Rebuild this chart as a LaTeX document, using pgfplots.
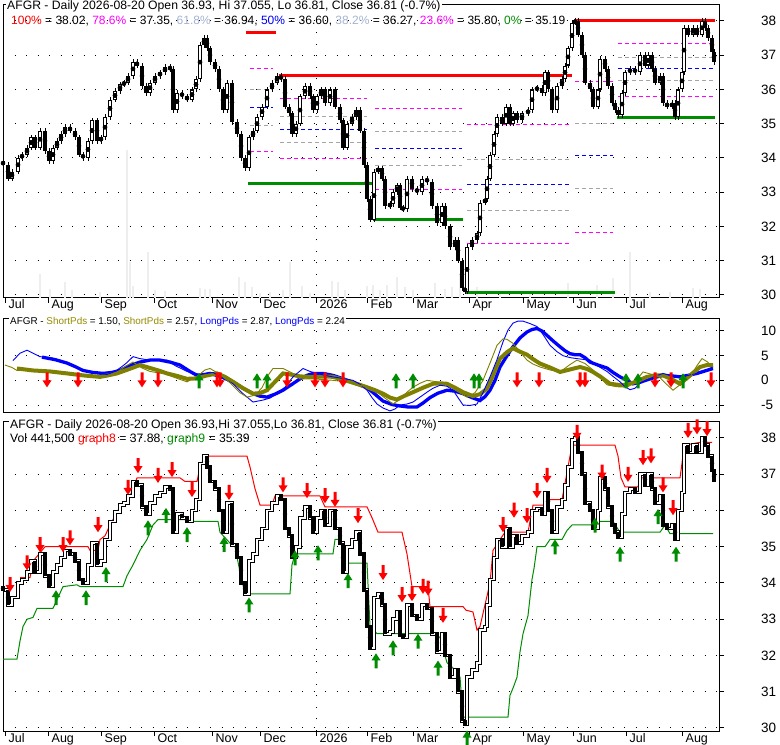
\documentclass[border=0pt]{standalone}
\usepackage{pgfplots}
\pgfplotsset{compat=1.18}
\usepackage{pgfplotstable}
\usepackage{fontspec}
\setmainfont{Liberation Sans}
\definecolor{fgreen}{RGB}{0,140,0}
\definecolor{olv}{RGB}{128,128,0}
\definecolor{olvt}{RGB}{150,140,0}
\definecolor{fgray}{RGB}{165,165,165}
\definecolor{lsb}{RGB}{165,180,210}
\definecolor{volg}{RGB}{238,238,238}
\definecolor{mag}{RGB}{255,0,255}

\pgfdeclareplotmark{darr}{%
  \pgfpathmoveto{\pgfpoint{0bp}{0bp}}%
  \pgfpathlineto{\pgfpoint{-4.5bp}{7bp}}%
  \pgfpathlineto{\pgfpoint{-1.5bp}{7bp}}%
  \pgfpathlineto{\pgfpoint{-1.5bp}{15bp}}%
  \pgfpathlineto{\pgfpoint{1.5bp}{15bp}}%
  \pgfpathlineto{\pgfpoint{1.5bp}{7bp}}%
  \pgfpathlineto{\pgfpoint{4.5bp}{7bp}}%
  \pgfpathclose\pgfusepathqfill}
\pgfdeclareplotmark{uarr}{%
  \pgfpathmoveto{\pgfpoint{0bp}{0bp}}%
  \pgfpathlineto{\pgfpoint{-4.5bp}{-7bp}}%
  \pgfpathlineto{\pgfpoint{-1.5bp}{-7bp}}%
  \pgfpathlineto{\pgfpoint{-1.5bp}{-15bp}}%
  \pgfpathlineto{\pgfpoint{1.5bp}{-15bp}}%
  \pgfpathlineto{\pgfpoint{1.5bp}{-7bp}}%
  \pgfpathlineto{\pgfpoint{4.5bp}{-7bp}}%
  \pgfpathclose\pgfusepathqfill}

\pgfplotstableread{
x o c
3 33.9 33.8
8 33.8 33.4
12 33.4 33.6
18 33.6 34.0
22 34.0 34.1
27 34.1 34.3
31 34.3 34.6
35 34.6 34.3
40 34.3 34.8
45 34.8 34.2
49 34.2 33.9
53 33.9 34.3
57 34.3 34.5
61 34.5 34.7
65 34.7 34.9
70 34.9 34.8
75 34.8 34.6
79 34.6 34.1
83 34.1 34.0
88 34.0 34.5
92 34.5 35.1
97 35.1 34.5
101 34.5 34.6
105 34.6 35.2
110 35.2 35.7
115 35.7 35.95
120 35.95 36.15
124 36.15 36.2
128 36.2 36.4
133 36.4 36.8
137 36.8 36.7
142 36.7 36.1
146 36.1 35.9
150 35.9 36.2
155 36.2 36.4
160 36.4 36.5
165 36.5 36.65
170 36.65 36.6
173 36.6 35.4
177 35.4 35.9
182 35.9 35.8
187 35.8 35.7
192 35.7 36.0
196 36.0 36.3
200 36.3 37.3
204 37.3 37.5
207 37.5 37.2
210 37.2 36.8
215 36.8 36.6
219 36.6 36.0
223 36.0 35.4
227 35.4 36.2
232 36.2 35.05
237 35.05 34.7
241 34.7 34.0
245 34.0 33.7
249 33.7 34.6
253 34.6 34.8
257 34.8 35.2
262 35.2 35.5
267 35.5 36.0
272 36.0 36.2
277 36.2 36.4
281 36.4 36.3
285 36.3 35.5
289 35.5 35.3
292 35.3 34.7
296 34.7 35.0
300 35.0 35.8
305 35.8 36.1
310 36.1 35.8
313 35.8 35.4
317 35.4 35.8
321 35.8 36.0
325 36.0 35.6
330 35.6 36.0
335 36.0 35.5
340 35.5 35.1
343 35.1 34.3
347 34.3 35.0
352 35.0 35.2
356 35.2 35.4
360 35.4 34.8
364 34.8 33.8
367 33.8 32.8
370 32.8 32.2
374 32.2 33.6
378 33.6 33.7
382 33.7 33.4
385 33.4 32.6
390 32.6 32.65
393 32.65 33.0
397 33.0 33.2
400 33.2 32.55
403 32.55 32.5
407 32.5 33.4
412 33.4 33.1
417 33.1 33.0
422 33.0 33.4
427 33.4 33.3
432 33.3 32.6
437 32.6 32.1
442 32.1 32.6
445 32.6 32.0
450 32.0 31.4
455 31.4 31.6
458 31.6 31.0
462 31.0 30.2
465 30.2 30.1
467 30.1 31.4
472 31.4 31.6
477 31.6 31.8
480 31.8 32.7
485 32.7 32.8
487 32.8 33.4
490 33.4 34.1
494 34.1 34.7
497 34.7 35.2
502 35.2 35.0
506 35.0 35.5
510 35.5 35.0
513 35.0 35.3
517 35.3 35.1
522 35.1 35.3
528 35.3 35.4
532 35.4 36.0
537 36.0 36.05
542 36.05 35.9
545 35.9 36.5
548 36.5 36.0
552 36.0 35.4
557 35.4 36.1
562 36.1 36.3
565 36.3 36.7
568 36.7 37.2
572 37.2 37.95
575 37.95 38.0
578 38.0 37.6
582 37.6 37.0
585 37.0 36.2
590 36.2 36.0
593 36.0 35.5
598 35.5 36.0
600 36.0 36.9
605 36.9 36.6
608 36.6 36.1
612 36.1 35.6
615 35.6 35.4
618 35.4 35.25
622 35.25 35.9
625 35.9 36.5
630 36.5 36.6
635 36.6 36.5
640 36.5 37.0
645 37.0 36.7
648 36.7 37.0
652 37.0 36.6
655 36.6 36.2
660 36.2 36.4
663 36.4 35.6
667 35.6 35.5
672 35.5 35.6
675 35.6 35.2
678 35.2 36.0
682 36.0 36.5
684 36.5 37.8
688 37.8 37.6
693 37.6 37.8
697 37.8 37.6
702 37.6 38.0
705 38.0 37.8
708 37.8 37.5
712 37.5 37.1
714 37.1 36.8
}\cdata

\newcommand{\fib}[4]{\addplot[#1, line width=1bp, dash pattern=on 4bp off 3bp] coordinates {(#2,#4) (#3,#4)};}
\newcommand{\fibs}[4]{\addplot[#1, line width=3bp] coordinates {(#2,#4) (#3,#4)};}

\pgfplotsset{
  common/.style={
    scale only axis, width=716bp, xmin=3, xmax=719,
    axis line style={line width=1bp, black},
    ymajorgrids,
    major grid style={line width=1bp, black, dash pattern=on 1bp off 10.5bp},
    tick align=outside, major tick length=5bp,
    xtick pos=left, ytick pos=right, yticklabel pos=right,
    tick style={black, line width=1bp},
    yticklabel style={font=\fontsize{13.5bp}{16bp}\selectfont, anchor=west, inner sep=0pt, xshift=37bp},
    xticklabel style={font=\fontsize{12.5bp}{15bp}\selectfont, anchor=base west, inner sep=0pt, xshift=3.5bp, yshift=-6bp},
    extra x ticks={316}, extra x tick labels={},
    extra x tick style={xmajorgrids=true, major tick length=0pt},
  },
  months/.style={
    xtick={5,48,101,154,212,260,316,367,413,469,523,573,626,682},
    xticklabels={Jul,Aug,Sep,Oct,Nov,Dec,2026,Feb,Mar,Apr,May,Jun,Jul,Aug},
  },
  wick/.style={only marks, mark=none, error bars/.cd, y dir=both, y explicit, error mark=none,
    error bar style={line width=1bp, draw=black}},
}

\begin{document}
\begin{tikzpicture}
\fill[white] (0,0) rectangle (780bp,745bp);
\path[use as bounding box] (0,0) rectangle (780bp,745bp);

% ---------------- top panel
\begin{axis}[common, months, at={(3bp,447bp)}, anchor=south west, height=293bp,
  ymin=29.912, ymax=38.467, ytick={30,31,32,33,34,35,36,37,38},
  yticklabels={30,31,32,33,34,35,36,37,38}]
\addplot[ycomb, line width=2bp, volg, mark=none] coordinates {
(40,30.61) (50,30.17) (65,30.38) (72,30.15) (100,30.09) (127,34.23) (130,30.96) (133,30.26)
(148,31.26) (155,30.15) (165,30.12) (200,30.2) (205,30.17) (210,30.17) (239,30.53) (245,30.38)
(252,30.23) (260,30.06) (270,30.09) (283,30.15) (290,30.96) (302,30.26) (310,30.06) (332,30.41)
(338,30.38) (345,30.15) (367,30.26) (373,30.29) (380,30.15) (387,30.29) (397,30.53) (405,30.23)
(413,30.15) (435,30.35) (445,30.17) (452,30.23) (460,30.58) (477,30.23) (500,30.09) (530,30.09)
(568,30.35) (597,30.29) (613,30.5) (630,31.26) (650,30.09) (670,30.09) (693,30.2) (700,30.17)};
% fib set 1
\fib{mag}{250}{273}{36.62}
\fib{fgray}{250}{273}{35.99}
\fib{blue}{250}{273}{35.46}
\fib{fgray}{250}{273}{34.94}
\fib{mag}{250}{273}{34.18}
% set 2
\fib{mag}{280}{367}{35.73}
\fib{fgray}{280}{367}{35.2}
\fib{blue}{280}{367}{34.83}
\fib{fgray}{280}{367}{34.45}
\fib{mag}{280}{367}{33.99}
% set 3
\fib{mag}{375}{462}{35.45}
\fib{fgray}{375}{462}{34.77}
\fib{blue}{375}{462}{34.28}
\fib{fgray}{375}{462}{33.77}
\fib{mag}{375}{462}{33.08}
% set 4
\fib{mag}{467}{570}{34.98}
\fib{fgray}{467}{570}{33.96}
\fib{blue}{467}{570}{33.22}
\fib{fgray}{467}{570}{32.47}
\fib{mag}{467}{570}{31.5}
% set 5
\fib{mag}{575}{613}{36.23}
\fib{fgray}{575}{613}{35.0}
\fib{blue}{575}{613}{34.06}
\fib{fgray}{575}{613}{33.1}
\fib{mag}{575}{613}{31.83}
% set 6
\fib{mag}{618}{715}{37.35}
\fib{fgray}{618}{715}{36.94}
\fib{blue}{618}{715}{36.60}
\fib{fgray}{618}{715}{36.27}
\fib{mag}{618}{715}{35.80}
% solid levels
\fibs{red}{246}{276}{37.65}
\fibs{fgreen}{248}{372}{33.25}
\fibs{red}{279}{572}{36.40}
\fibs{fgreen}{373}{463}{32.2}
\fibs{fgreen}{466}{615}{30.07}
\fibs{red}{574}{715}{38.02}
\fibs{fgreen}{617}{715}{35.19}
% candles
\addplot[wick] table[x=x, y expr={(\thisrow{o}+\thisrow{c})/2}, y error expr={abs(\thisrow{o}-\thisrow{c})/2+0.08}] {\cdata};
\addplot[only marks, mark=none, restrict expr to domain={\thisrow{c}-\thisrow{o}}{-100:0},
  error bars/.cd, y dir=both, y explicit, error mark=none, error bar style={line width=3.6bp, draw=black}]
  table[x=x, y expr={(\thisrow{o}+\thisrow{c})/2}, y error expr={abs(\thisrow{o}-\thisrow{c})/2}] {\cdata};
\addplot[only marks, mark=none, restrict expr to domain={\thisrow{c}-\thisrow{o}}{0:100},
  error bars/.cd, y dir=both, y explicit, error mark=none, error bar style={line width=3.6bp, draw=black}]
  table[x=x, y expr={(\thisrow{o}+\thisrow{c})/2}, y error expr={abs(\thisrow{o}-\thisrow{c})/2}] {\cdata};
\addplot[only marks, mark=none, restrict expr to domain={\thisrow{c}-\thisrow{o}}{0:100},
  error bars/.cd, y dir=both, y explicit, error mark=none, error bar style={line width=1.6bp, draw=white}]
  table[x=x, y expr={(\thisrow{o}+\thisrow{c})/2}, y error expr={max(abs(\thisrow{o}-\thisrow{c})/2-0.03,0)}] {\cdata};
\end{axis}

% ---------------- middle panel
\begin{axis}[common, at={(3bp,332bp)}, anchor=south west, height=94bp,
  ymin=-6.62, ymax=12.43, xtick=\empty, ytick={-5,0,5,10}, yticklabels={-5,0,5,10}]
\addplot[blue, line width=3.3bp, mark=none] coordinates {
(42,4.7) (55,4.2) (67,3.5) (75,2.8) (83,2.0) (93,1.6) (103,1.4) (112,1.6) (120,2.0) (130,3.0) (140,3.7)
(150,4.1) (160,4.1) (170,3.7) (180,3.1) (190,1.8) (197,1.0) (205,1.2) (210,1.4) (220,0.8) (233,-0.3)
(243,-1.6) (253,-2.7) (260,-3.2) (267,-3.4) (275,-2.8) (283,-2.0) (292,-0.8) (300,0.3) (307,1.0)
(313,1.4) (323,1.4) (333,1.0) (342,0.4) (350,-0.2) (358,-0.8) (367,-1.5) (375,-2.8) (383,-4.2)
(392,-4.9) (400,-5.2) (408,-5.4) (417,-5.4) (423,-4.6) (430,-3.5) (438,-2.6) (447,-2.0) (455,-2.2)
(463,-2.7) (472,-3.5) (480,-4.1) (485,-3.3) (490,-2.0) (495,0.0) (500,2.7) (507,5.0) (513,6.8)
(520,8.6) (527,9.8) (532,10.3) (537,10.5) (542,10.0) (547,9.1) (553,8.0) (560,6.8) (565,6.0)
(570,5.4) (575,5.2) (580,5.2) (585,4.6) (590,3.7) (598,3.1) (607,2.5) (613,1.6) (620,0.7) (627,0.0)
(633,-0.7) (640,-0.4) (647,0.1) (655,0.6) (663,1.0) (672,0.9) (680,0.7) (688,1.0) (697,1.4) (705,1.9) (713,2.4)};
\addplot[olv, line width=4bp, mark=none] coordinates {
(17,2.4) (25,2.2) (33,2.0) (50,1.8) (67,1.4) (83,1.0) (100,0.7) (108,1.0) (117,1.4) (128,2.2) (140,3.1)
(150,2.5) (160,1.9) (167,1.4) (177,0.9) (187,0.3) (197,0.4) (205,0.9) (217,1.4) (225,0.7) (233,-0.3)
(243,-1.6) (253,-2.7) (260,-2.6) (267,-2.0) (275,-0.3) (283,1.4) (290,1.2) (300,0.8) (310,0.7)
(317,0.7) (325,0.8) (333,0.7) (342,0.2) (350,-0.3) (358,-0.8) (367,-1.4) (375,-2.0) (383,-2.7)
(390,-3.5) (397,-3.9) (405,-3.1) (413,-2.4) (423,-1.5) (433,-0.7) (440,-0.6) (447,-0.7) (455,-1.5)
(463,-2.4) (473,-3.2) (480,-2.8) (487,-1.7) (493,1.0) (500,4.4) (507,5.7) (513,6.5) (520,5.8)
(527,5.2) (533,4.3) (540,3.4) (550,2.6) (560,1.7) (570,2.2) (580,2.7) (587,2.3) (593,1.7) (600,0.8)
(610,-0.7) (618,-0.9) (627,-0.9) (637,-0.2) (647,0.7) (655,1.0) (663,1.0) (672,0.2) (680,-0.7)
(690,1.0) (700,2.7) (707,3.1) (713,3.1)};
\addplot[blue, line width=0.9bp, mark=none] coordinates {
(13,4.0) (20,5.5) (27,6.1) (33,5.5) (40,4.8) (50,4.6) (60,4.1) (70,3.3) (83,2.0) (95,1.4) (107,1.2)
(115,1.8) (122,2.8) (127,3.6) (133,4.8) (140,4.4) (150,4.1) (160,4.1) (167,4.1) (175,3.0) (187,1.8)
(200,1.2) (207,1.4) (213,1.6) (220,0.8) (233,-0.7) (243,-2.7) (253,-4.4) (263,-4.0) (270,-3.6)
(277,-2.7) (285,-1.4) (293,0.7) (303,2.4) (310,1.8) (317,1.4) (325,1.0) (333,0.7) (345,0.3) (353,0.0)
(360,-0.8) (367,-2.0) (372,-3.5) (377,-4.8) (383,-5.6) (390,-6.2) (395,-5.8) (400,-5.0) (407,-4.8)
(413,-4.4) (420,-3.4) (427,-2.4) (433,-1.6) (440,-1.0) (447,-1.2) (453,-2.0) (458,-3.5) (463,-5.0)
(470,-5.1) (477,-4.8) (483,-2.5) (490,0.7) (497,4.2) (503,7.8) (508,10.2) (513,11.6) (518,12.0)
(523,12.0) (530,11.5) (537,10.9) (543,9.3) (550,7.1) (557,5.8) (563,5.0) (570,4.6) (577,4.4)
(585,4.2) (590,4.1) (597,3.0) (607,1.8) (613,0.8) (620,-0.3) (625,-1.3) (630,-1.9) (635,-1.6)
(640,-0.6) (647,0.1) (655,0.8) (663,1.4) (670,1.0) (680,0.5) (688,1.0) (697,1.4) (705,2.0) (713,2.7)};
\addplot[olv, line width=0.9bp, mark=none] coordinates {
(5,3.1) (12,2.6) (17,2.0) (33,2.0) (50,1.8) (67,1.2) (83,0.9) (100,0.6) (115,1.3) (125,2.8) (133,3.7)
(142,2.5) (150,1.8) (165,1.3) (177,0.4) (187,-0.3) (197,0.8) (205,2.1) (210,2.4) (220,1.2) (230,-0.5)
(240,-2.5) (247,-3.4) (255,-3.0) (262,-1.5) (268,1.0) (273,2.4) (283,2.4) (292,1.5) (300,0.3)
(313,0.3) (333,0.0) (350,-0.4) (367,-1.4) (375,-2.0) (383,-3.3) (393,-4.8) (400,-3.8) (407,-2.4)
(413,-1.4) (420,-0.6) (427,0.0) (437,-0.3) (447,-0.9) (457,-2.2) (467,-3.4) (475,-2.5) (483,0.0)
(490,3.5) (497,7.1) (503,8.4) (507,8.3) (513,7.5) (520,5.8) (527,4.1) (533,3.3) (540,2.7) (550,2.1)
(560,1.7) (570,3.2) (577,4.1) (585,3.4) (593,2.1) (600,0.6) (607,-0.9) (617,-1.3) (627,-1.4)
(635,-0.3) (643,1.7) (650,1.3) (658,0.9) (665,-0.5) (673,-2.0) (680,-0.9) (690,0.6) (697,3.0)
(702,4.4) (707,3.8) (713,2.7)};
\addplot[only marks, mark=darr, mark options={fill=red}] coordinates {
(47,-1.43) (78,-1.43) (142,-1.43) (158,-1.43) (217,-1.43) (220,-1.43) (287,-1.43) (315,-1.43)
(325,-1.43) (343,-1.43) (517,-1.43) (539,-1.43) (580,-1.43) (585,-1.43) (655,-1.43) (671,-1.43) (711,-1.43)};
\addplot[only marks, mark=uarr, mark options={fill=fgreen}] coordinates {
(199,1.43) (257,1.43) (267,1.43) (396,1.43) (413,1.43) (474,1.43) (479,1.43) (626,1.43) (638,1.43) (683,1.43)};
\end{axis}

% ---------------- bottom panel
\begin{axis}[common, months, at={(3bp,14bp)}, anchor=south west, height=309bp, clip=false,
  ymin=29.917, ymax=38.441, ytick={30,31,32,33,34,35,36,37,38},
  yticklabels={30,31,32,33,34,35,36,37,38}]
\addplot[red, line width=1bp, mark=none] coordinates {
(20,34.15) (30,34.15) (33,34.6) (45,35.0) (88,35.0) (90,34.9) (98,34.9) (100,35.2) (105,35.3)
(110,35.6) (115,35.85) (120,36.1) (127,36.2) (133,36.6) (137,36.9) (180,36.9) (185,36.8) (197,36.8)
(200,37.2) (205,37.5) (247,37.5) (250,37.2) (255,36.6) (260,36.15) (272,36.15) (275,36.4) (320,36.4)
(325,36.1) (367,36.1) (372,35.8) (378,35.4) (402,35.4) (407,34.8) (412,33.9) (428,33.9) (430,33.35)
(463,33.35) (466,33.25) (473,33.2) (477,32.7) (480,32.8) (485,33.4) (490,34.0) (493,34.9) (500,35.2)
(505,35.4) (528,35.4) (533,36.15) (547,36.15) (550,36.3) (562,36.3) (568,37.2) (572,37.8) (577,37.8)
(615,37.8) (618,37.5) (621,36.9) (625,36.65) (638,36.65) (640,36.9) (680,36.9) (682,37.3) (684,37.8)
(700,37.88) (712,37.88)};
\addplot[fgreen, line width=1bp, mark=none] coordinates {
(3,31.9) (17,31.9) (20,32.4) (23,32.8) (27,33.0) (33,33.05) (37,33.3) (53,33.3) (58,33.6) (63,33.9)
(77,33.95) (80,33.9) (123,33.9) (127,34.2) (133,34.5) (140,34.9) (147,35.2) (153,35.6) (158,35.75)
(187,35.75) (190,35.7) (218,35.7) (220,35.4) (230,35.1) (235,35.0) (240,34.3) (245,33.7) (290,33.7)
(292,34.5) (295,34.8) (333,34.8) (335,35.2) (341,35.2) (343,34.55) (367,34.55) (370,32.8) (377,32.6)
(433,32.6) (440,32.5) (447,31.8) (455,31.6) (460,31.4) (463,30.3) (508,30.3) (510,30.9) (513,31.1)
(517,31.4) (520,32.1) (523,32.6) (528,33.1) (532,34.1) (534,34.4) (537,35.0) (545,35.0) (550,35.2)
(562,35.2) (567,35.45) (572,35.6) (598,35.6) (600,35.7) (613,35.7) (620,35.4) (660,35.4) (665,35.6)
(670,35.36) (713,35.36)};
\addplot[const plot, black, line width=1bp, double=white, double distance=1.6bp, mark=none]
  table[x=x, y=c] {\cdata};
\addplot[only marks, mark=none, restrict expr to domain={\thisrow{c}-\thisrow{o}}{-100:0},
  error bars/.cd, y dir=both, y explicit, error mark=none, error bar style={line width=3.6bp, draw=black}]
  table[x=x, y expr={(\thisrow{o}+\thisrow{c})/2}, y error expr={abs(\thisrow{o}-\thisrow{c})/2+0.015}] {\cdata};
\addplot[only marks, mark=darr, mark options={fill=red}] coordinates {
(10,33.75) (27,34.35) (40,34.85) (63,34.85) (70,35.04) (98,35.4) (128,36.43) (138,37.03) (158,36.76)
(172,36.92) (192,36.37) (229,36.29) (283,36.5) (307,36.34) (325,36.2) (335,36.1) (358,35.65) (383,34.08)
(402,33.47) (412,33.5) (423,33.7) (428,33.65) (443,32.9) (503,35.4) (514,35.8) (527,35.65) (537,36.34)
(547,36.76) (577,37.95) (602,36.85) (628,36.79) (643,37.25) (651,37.3) (663,36.5) (673,35.87) (688,38.0)
(697,38.1) (707,38.05)};
\addplot[only marks, mark=uarr, mark options={fill=fgreen}] coordinates {
(56,33.8) (86,33.8) (106,34.44) (148,35.73) (166,36.07) (187,35.54) (224,35.27) (249,33.6) (295,34.9)
(318,35.04) (348,34.27) (376,32.06) (393,32.42) (418,32.6) (438,31.86) (467,29.93) (555,35.2) (595,35.8)
(620,35.0) (658,36.04) (676,35.0)};
\end{axis}

% ---------------- headers
\node[anchor=base west, inner sep=0pt, inner xsep=1bp, fill=white, font=\fontsize{12.2bp}{14bp}\selectfont]
  at (6bp,735bp) {AFGR - Daily 2026-08-20 Open 36.93, Hi 37.055, Lo 36.81, Close 36.81 (-0.7\%)};
\node[anchor=base west, inner sep=0pt, font=\fontsize{12bp}{14bp}\selectfont]
  at (11bp,720bp) {\textcolor{red}{100\%} = 38.02, \textcolor{mag}{78.6\%} = 37.35, \textcolor{lsb}{61.8\%} = 36.94, \textcolor{blue}{50\%} = 36.60, \textcolor{lsb}{38.2\%} = 36.27, \textcolor{mag}{23.6\%} = 35.80, \textcolor{fgreen}{0\%} = 35.19};
\node[anchor=base west, inner sep=0pt, inner xsep=1bp, fill=white, font=\fontsize{9.9bp}{12bp}\selectfont]
  at (9bp,420.7bp) {AFGR - \textcolor{olvt}{ShortPds} = 1.50, \textcolor{olvt}{ShortPds} = 2.57, \textcolor{blue}{LongPds} = 2.87, \textcolor{blue}{LongPds} = 2.24};
\node[anchor=base west, inner sep=0pt, inner xsep=1bp, fill=white, font=\fontsize{12.2bp}{14bp}\selectfont]
  at (9bp,316.7bp) {AFGR - Daily 2026-08-20 Open 36.93,Hi 37.055,Lo 36.81, Close 36.81 (-0.7\%)};
\node[anchor=base west, inner sep=0pt, font=\fontsize{12.2bp}{14bp}\selectfont]
  at (10bp,302.7bp) {Vol 441,500 \textcolor{red}{graph8} = 37.88, \textcolor{fgreen}{graph9} = 35.39};
\end{tikzpicture}
\end{document}
